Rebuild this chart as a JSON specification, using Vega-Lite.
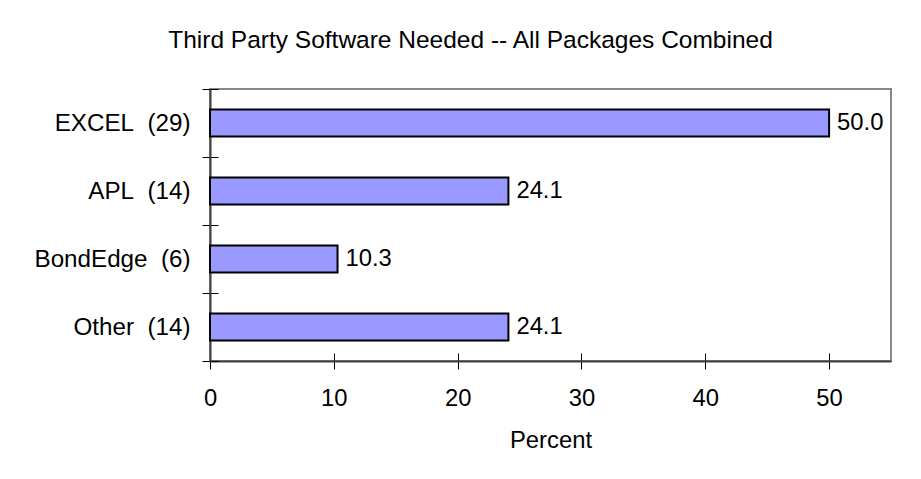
{
  "$schema": "https://vega.github.io/schema/vega-lite/v6.json",
  "width": 681,
  "height": 272,
  "autosize": "none",
  "padding": {"left": 210, "top": 89, "right": 30, "bottom": 118},
  "background": "white",
  "title": {
    "text": "Third Party Software Needed -- All Packages Combined",
    "font": "Liberation Sans",
    "fontSize": 24.5,
    "fontWeight": "normal",
    "color": "black",
    "anchor": "middle",
    "frame": "bounds",
    "baseline": "alphabetic",
    "offset": 5,
    "dx": 8
  },
  "data": {
    "values": [
      {"label": "EXCEL\u00a0\u00a0(29)", "pct": 50.0},
      {"label": "APL\u00a0\u00a0(14)", "pct": 24.1},
      {"label": "BondEdge\u00a0\u00a0(6)", "pct": 10.3},
      {"label": "Other\u00a0\u00a0(14)", "pct": 24.1}
    ]
  },
  "encoding": {
    "y": {
      "field": "label",
      "type": "nominal",
      "sort": null,
      "title": null,
      "scale": {"paddingInner": 0, "paddingOuter": 0},
      "axis": {
        "tickBand": "extent",
        "tickSize": 8,
        "tickColor": "black",
        "tickWidth": 1,
        "labelPadding": 12,
        "labelFont": "Liberation Sans",
        "labelFontSize": 24.2,
        "labelColor": "black",
        "domainColor": "#404040",
        "domainWidth": 2,
        "encoding": {"ticks": {"x": {"value": 8}, "x2": {"value": -8}}}
      }
    },
    "x": {
      "field": "pct",
      "type": "quantitative",
      "title": "Percent",
      "scale": {"domain": [0, 55], "nice": false},
      "axis": {
        "values": [0, 10, 20, 30, 40, 50],
        "grid": false,
        "tickSize": 8,
        "tickColor": "black",
        "tickWidth": 1,
        "labelPadding": 17,
        "labelFont": "Liberation Sans",
        "labelFontSize": 23.8,
        "labelColor": "black",
        "labelFlush": false,
        "domainColor": "#404040",
        "domainWidth": 2,
        "titleFont": "Liberation Sans",
        "titleFontSize": 23.8,
        "titleFontWeight": "normal",
        "titleColor": "black",
        "titlePadding": 19,
        "encoding": {"ticks": {"y": {"value": -8}, "y2": {"value": 8}}}
      }
    }
  },
  "layer": [
    {
      "mark": {"type": "bar", "color": "#9999ff", "stroke": "black", "strokeWidth": 2, "height": {"band": 0.4}}
    },
    {
      "mark": {"type": "text", "align": "left", "baseline": "middle", "dx": 8, "font": "Liberation Sans", "fontSize": 23.8, "color": "black"},
      "encoding": {"text": {"field": "pct", "type": "quantitative", "format": ".1f"}}
    }
  ],
  "config": {
    "view": {"stroke": "#888888", "strokeWidth": 2}
  }
}
